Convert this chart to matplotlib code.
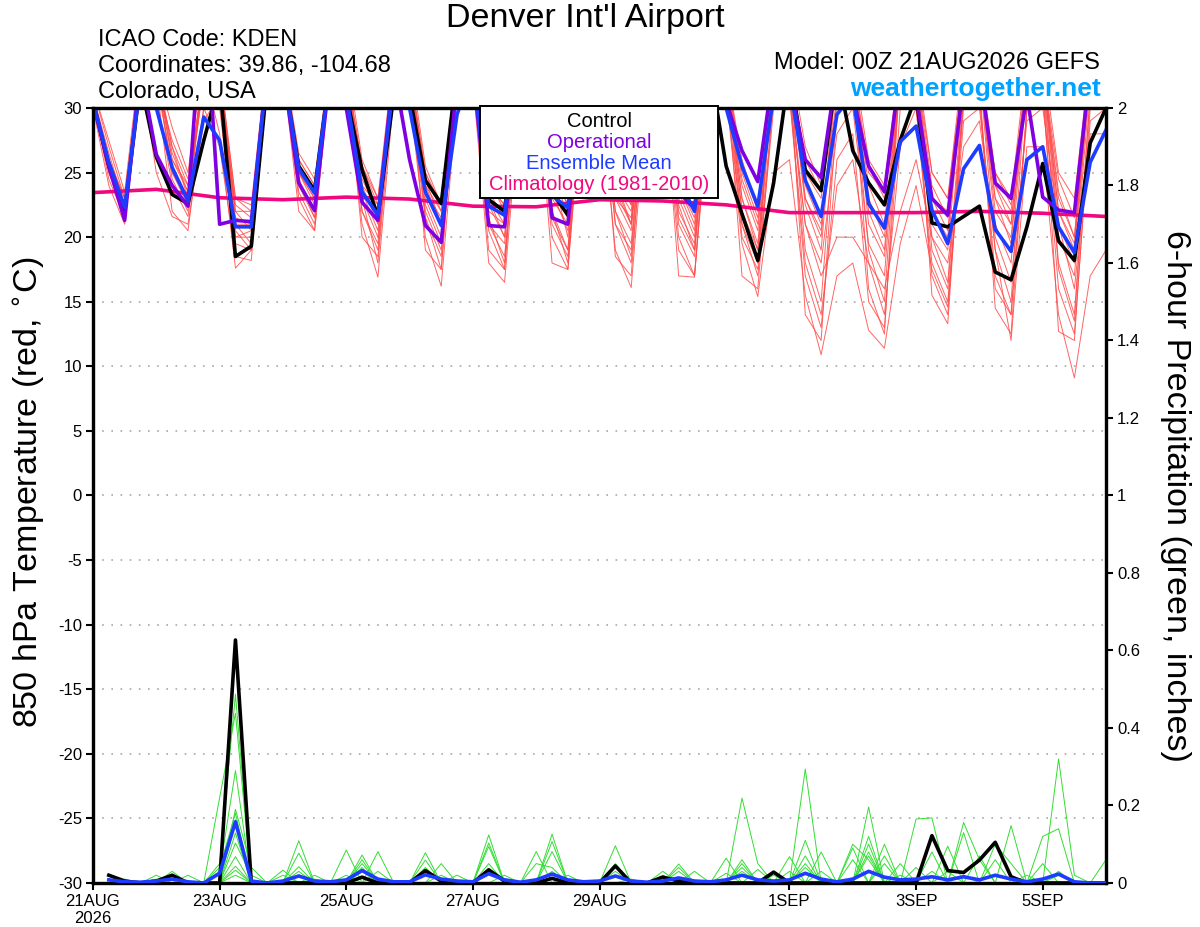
import numpy as np
import pandas as pd
import matplotlib
matplotlib.use("Agg")
import matplotlib.pyplot as plt
from matplotlib.patches import Rectangle

plt.rcParams["font.family"] = ["Liberation Sans", "DejaVu Sans"]

# 6-hourly forecast steps, 00Z 21 Aug 2026 -> 00Z 6 Sep 2026
times = pd.date_range("2026-08-21 00:00", periods=65, freq="6h")
precip_times = times[1:]
clim_days = pd.date_range("2026-08-21", periods=17, freq="D")

tick_dates = pd.to_datetime(["2026-08-21", "2026-08-23", "2026-08-25", "2026-08-27",
                             "2026-08-29", "2026-09-01", "2026-09-03", "2026-09-05"])
tick_labels = ["21AUG\n2026", "23AUG", "25AUG", "27AUG", "29AUG", "1SEP", "3SEP", "5SEP"]

# 850 hPa temperature (C); values above 30 run off the top of the chart
t_control = [30.5, 25.5, 22.0, 32,
             26.2, 23.3, 22.6, 27.5,
             32, 18.5, 19.3, 32,
             33, 25.5, 23.6, 33,
             31, 25.2, 21.6, 31,
             31, 24.4, 22.6, 33,
             33, 22.9, 22.0, 33,
             33, 23.5, 21.7, 33,
             33, 26, 24.5, 33,
             33, 26, 23.8, 33,
             25.5, 21.8, 18.2, 24.2,
             33, 25.2, 23.6, 33,
             26.7, 24.2, 22.5, 27.5,
             31, 21.1, 20.8, 21.6,
             22.4, 17.3, 16.7, 20.8,
             25.7, 19.7, 18.2, 27.3,
             30]
t_oper = [30.5, 25.5, 21.3, 33,
          26.4, 24.0, 22.4, 40,
          21.0, 21.3, 21.2, 33,
          33, 24.2, 22.05, 33,
          30, 22.7, 21.3, 33,
          26, 20.9, 19.6, 32,
          33, 20.9, 20.8, 33,
          33, 21.5, 21.0, 33,
          33, 25.5, 23.8, 33,
          33, 23.5, 22.2, 33,
          30.5, 26.7, 24.3, 33,
          32, 26, 24.6, 33,
          31, 25.5, 23.5, 33,
          31, 23, 21.7, 32,
          33, 24.2, 23.0, 31,
          23.1, 22.1, 21.9, 33,
          34]
t_mean = [30.5, 25.8, 22.3, 32,
          30, 25.4, 22.8, 29.3,
          27.5, 20.8, 20.8, 33,
          33, 25.3, 23.4, 33,
          31, 23.5, 21.7, 32,
          30, 23.5, 20.9, 29.5,
          33, 22.4, 21.7, 33,
          33, 23.2, 22.3, 33,
          33, 25.5, 24, 33,
          33, 24.5, 22.0, 33,
          30, 25.5, 22.4, 31,
          32, 24.4, 21.6, 29.5,
          31, 22.6, 20.7, 27.4,
          28.6, 22.1, 19.5, 25.3,
          27.1, 20.6, 18.9, 26,
          27, 20.8, 18.8, 25.8,
          28.3]
t_clim = [23.45, 23.7, 23.05, 22.9, 23.1, 22.95, 22.4, 22.35, 22.9,
          22.8, 22.5, 21.9, 21.9, 21.9, 22.0, 21.85, 21.6]

t_members = [
    [31, 26.5, 22.5, 33, 32, 27.5, 24.5, 32, 33, 21.5, 21, 33, 33, 26, 24, 33,
     33, 25.5, 22.5, 33, 33, 25, 22, 32, 33, 24, 22.5, 33, 33, 24.5, 22, 33,
     33, 25, 22.5, 33, 33, 25, 22, 33, 32, 24, 20.5, 33, 33, 26, 23.5, 33,
     33, 25.5, 23, 32, 31, 23, 22, 33, 33, 25, 22.5, 33, 33, 24.5, 21.5, 33, 33],
    [30.5, 25, 21.5, 33, 31, 24, 21.6, 30, 27, 18.5, 18.2, 33, 33, 24.5, 21.5, 33,
     32, 23, 18, 32, 31, 21.5, 17.5, 33, 33, 21, 18.5, 32, 33, 22, 19, 33,
     33, 21, 18, 31, 33, 22.5, 19, 32, 31, 19.5, 15.4, 25, 26, 15.5, 10.9, 17,
     18, 12.8, 11.4, 19.5, 24, 17.5, 14.6, 29, 30, 19, 12, 27, 27, 14, 9.1, 17, 19],
    [31.5, 27.5, 23.5, 34, 33, 28.5, 25, 34, 33, 23, 22.5, 34, 34, 26.5, 24.5, 34,
     34, 26, 23, 34, 34, 25.5, 22.5, 34, 34, 24, 22.5, 34, 34, 25, 22.5, 34,
     34, 25, 22.5, 34, 34, 25, 22, 34, 33, 26, 22, 34, 34, 27, 24, 34,
     34, 26, 24, 34, 34, 25, 23, 34, 34, 25, 23, 34, 34, 25, 23, 34, 34],
    [30.5, 25.5, 22, 33, 30, 25, 23, 33, 28, 17.6, 19, 33, 33, 23.5, 21, 33,
     32, 21, 16.9, 31, 31, 20, 16.2, 31, 32, 18, 16.5, 31, 32, 20, 17.5, 32,
     32, 19, 16.1, 31, 33, 20, 17, 32, 31, 21, 17, 30, 31, 18, 14, 24,
     26, 18, 14, 27, 30, 18, 15, 30, 31, 17, 14, 30, 32, 18, 14, 31, 31],
    [31, 26, 22.5, 33, 33, 26.5, 23.5, 33, 33, 22, 20.5, 33, 33, 25, 22.5, 33,
     33, 24, 21, 33, 33, 23, 20, 33, 33, 23, 20, 33, 33, 23, 21, 33,
     33, 23, 20.5, 33, 33, 24, 21, 33, 33, 23, 19, 33, 33, 24, 21, 31,
     33, 23, 20, 33, 33, 22, 20, 33, 33, 23, 19.5, 33, 33, 23, 20, 33, 33],
    [30.5, 24.5, 21.5, 33, 32, 22, 20.5, 30, 30, 19.5, 19, 33, 33, 23, 20.5, 33,
     33, 22, 19.5, 33, 32, 22, 19, 33, 33, 21.5, 18, 33, 33, 21, 18.5, 33,
     33, 21, 19, 33, 32, 19, 17, 31, 33, 22, 18, 33, 31, 21, 17, 20,
     20, 18, 16, 22, 26, 20, 18, 27, 29, 20, 16.5, 29, 30, 21, 16, 28, 28],
    [30.5, 25.5, 22, 33, 32, 25.5, 23, 32, 31, 20, 20, 33, 33, 24, 22, 33,
     33, 23.5, 20.5, 33, 33, 24, 21, 33, 33, 22.5, 20, 33, 33, 23.5, 20.5, 33,
     33, 24, 21, 33, 33, 23, 20, 33, 33, 24.5, 21, 33, 33, 23, 20, 33,
     33, 21, 18.5, 32, 33, 21, 19, 33, 33, 21, 18, 33, 33, 22, 19, 33, 33],
    [31.5, 27, 23, 33, 33, 27, 24, 33, 32, 22.5, 21.5, 33, 33, 25.5, 23.5, 33,
     33, 24.5, 22, 33, 33, 23.5, 21.5, 33, 33, 22, 21, 33, 33, 24, 21.5, 33,
     33, 23.5, 21, 33, 33, 22, 19.5, 33, 33, 25, 21.5, 33, 32, 21, 18, 28,
     30, 19.5, 17, 33, 33, 20, 16.5, 32, 33, 24, 21, 33, 33, 20, 17, 32, 32],
    [30, 24, 21, 33, 25, 21.6, 21, 29, 31, 20, 20.5, 33, 33, 22, 20.5, 33,
     33, 20, 18.5, 33, 33, 19, 17.5, 33, 33, 19, 17.5, 33, 33, 18, 17.5, 33,
     33, 18.5, 17, 33, 33, 17, 16.9, 33, 33, 17, 16, 31, 33, 14, 12, 30,
     33, 16, 12.5, 33, 33, 15.5, 13.3, 31, 32, 14.5, 12.5, 30, 32, 12.7, 12, 30, 30],
    [31, 26, 23, 33, 33, 26, 23.5, 32, 32, 21, 21, 33, 33, 25, 23, 33,
     33, 25, 22, 33, 33, 24.5, 21, 33, 33, 23.5, 21.5, 33, 33, 25, 20, 33,
     33, 24.5, 21, 33, 33, 24, 21.5, 33, 33, 23, 19.5, 33, 33, 22.5, 19, 33,
     33, 24, 21, 33, 33, 23, 20.5, 33, 33, 23, 21, 33, 33, 21, 18, 33, 32],
    [30.5, 25, 22, 33, 33, 24.5, 22, 33, 33, 21, 19.5, 33, 33, 24, 22, 33,
     33, 22, 19, 33, 33, 21.5, 18.5, 33, 33, 20.5, 17.5, 33, 33, 22, 18, 33,
     33, 22, 18.5, 33, 33, 21, 18.5, 33, 33, 20, 17.5, 31, 33, 19, 15, 31,
     33, 19, 15, 33, 33, 19, 16, 31, 33, 19, 15, 33, 33, 17.5, 13.5, 31, 31],
    [31, 26, 22.5, 33, 33, 27, 23, 33, 32, 22, 22, 33, 33, 26, 24, 33,
     33, 25.5, 23, 33, 33, 25, 22.5, 33, 33, 24.5, 22, 33, 33, 25, 22.5, 33,
     33, 24, 22, 33, 33, 24, 22, 33, 33, 25.5, 22, 33, 33, 25, 23, 33,
     33, 25, 23.5, 33, 33, 25, 23, 33, 33, 24, 22, 33, 33, 23.5, 20, 33, 33],
    [30.5, 25, 22.5, 33, 33, 25, 22.5, 33, 32, 20.5, 19, 33, 33, 24, 21.5, 33,
     33, 23, 20, 33, 33, 22.5, 19.5, 33, 33, 21, 19.5, 33, 33, 21.5, 19, 33,
     33, 22, 19.5, 33, 33, 21.5, 19, 33, 33, 21, 18, 33, 31, 17, 13, 26,
     28, 15, 13, 30, 30, 17, 14, 31, 31, 16, 14, 30, 31, 16, 12.5, 29, 30],
    [31, 26, 23, 33, 33, 26, 24, 33, 33, 23, 22, 33, 33, 25, 23, 33,
     33, 24, 22.5, 33, 33, 24, 22, 33, 33, 23, 21, 33, 33, 24, 21.5, 33,
     33, 23, 21.5, 33, 33, 23.5, 20.5, 33, 33, 22, 19, 33, 33, 23, 20.5, 33,
     33, 22, 19, 33, 33, 24, 21.5, 33, 33, 22, 20, 33, 33, 22, 19.5, 33, 33],
]

# 6-hour precipitation (inches), steps 06Z 21 Aug -> 00Z 6 Sep
p_control = [.02, .005, 0, .005, .02, 0, 0, 0, .627, 0, 0, 0, 0, 0, 0, 0,
             .015, 0, 0, 0, .032, .005, 0, 0, .034, .005, 0, 0, .012, 0, 0, 0,
             .044, 0, 0, .015, .005, 0, 0, 0, 0, 0, .028, 0, 0, 0, 0, 0,
             0, 0, 0, 0, .122, .032, .027, .059, .105, .016, 0, 0, 0, 0, 0, 0]
p_mean = [.008, .003, .002, .005, .01, .003, 0, .025, .158, .005, 0, .005, .018, .005, .003, .008,
          .032, .01, .003, .003, .021, .01, .005, .003, .024, .008, .002, .008, .023, .008, .003, .005,
          .018, .005, .002, .005, .013, .005, .003, .008, .02, .008, .005, .008, .025, .01, .003, .01,
          .03, .015, .008, .01, .016, .008, .016, .008, .02, .01, .003, .01, .023, .003, 0, 0]
p_members = [
    [.01, 0, 0, 0, 0, 0, 0, .05, .487, 0, 0, 0, .03, 0, 0, 0,
     .072, 0, 0, 0, 0, .02, 0, 0, 0, 0, 0, .05, .04, 0, 0, 0,
     0, 0, 0, 0, .049, 0, 0, 0, 0, 0, 0, .03, 0, 0, 0, .06,
     0, 0, .05, 0, 0, 0, .02, 0, 0, 0, 0, 0, .32, .02, 0, 0],
    [.02, 0, 0, 0, 0, 0, 0, .22, .438, 0, 0, 0, .109, 0, 0, 0,
     .03, 0, 0, 0, 0, 0, 0, 0, .103, 0, 0, 0, 0, .02, 0, 0,
     0, 0, 0, 0, 0, 0, 0, .064, 0, 0, 0, 0, .07, 0, 0, 0,
     .08, 0, 0, .165, .168, 0, 0, 0, 0, 0, 0, 0, 0, 0, 0, 0],
    [0, 0, 0, 0, .02, 0, 0, .03, .29, 0, 0, .033, 0, 0, 0, .02,
     0, 0, 0, 0, .059, 0, 0, 0, 0, .02, 0, 0, 0, 0, 0, 0,
     0, .01, 0, 0, 0, 0, 0, 0, .219, .05, 0, 0, 0, .03, 0, 0,
     .07, 0, 0, 0, 0, .03, 0, 0, 0, 0, 0, .12, .14, 0, 0, 0],
    [0, 0, 0, .02, 0, 0, 0, 0, .19, .04, 0, 0, 0, .02, 0, 0,
     0, .081, 0, 0, 0, 0, 0, 0, .03, 0, 0, 0, 0, 0, 0, 0,
     .096, 0, 0, 0, 0, 0, 0, 0, .04, 0, 0, 0, 0, 0, 0, .1,
     .06, 0, 0, 0, 0, .095, 0, 0, 0, 0, 0, 0, .02, 0, 0, 0],
    [0, 0, 0, 0, .03, 0, 0, .04, .18, 0, 0, 0, .077, 0, 0, 0,
     0, 0, 0, 0, .078, 0, 0, 0, 0, 0, 0, 0, .107, 0, 0, 0,
     0, 0, 0, 0, .03, 0, 0, 0, 0, 0, 0, 0, .294, 0, 0, 0,
     0, .07, 0, 0, 0, 0, 0, .07, 0, 0, 0, 0, 0, 0, 0, 0],
    [.01, 0, 0, 0, 0, 0, 0, 0, .163, 0, 0, .02, 0, 0, 0, 0,
     .06, 0, 0, 0, 0, .05, 0, 0, 0, 0, 0, 0, .081, 0, 0, 0,
     0, 0, 0, 0, 0, .03, 0, 0, 0, 0, 0, .068, 0, 0, 0, 0,
     .12, 0, 0, 0, .03, 0, 0, 0, .1, .05, 0, 0, 0, 0, 0, 0],
    [0, 0, 0, 0, 0, .02, 0, 0, .129, 0, 0, 0, 0, .01, 0, 0,
     0, .03, 0, 0, 0, 0, 0, 0, .124, 0, 0, 0, 0, 0, 0, 0,
     0, 0, 0, .02, 0, 0, 0, 0, .05, 0, 0, 0, 0, .08, 0, 0,
     0, 0, .02, 0, 0, 0, 0, 0, 0, .148, 0, 0, 0, 0, 0, 0],
    [0, 0, 0, 0, 0, 0, 0, 0, .103, .02, 0, 0, 0, 0, 0, .085,
     0, 0, 0, 0, 0, 0, 0, 0, .05, 0, 0, 0, 0, 0, 0, 0,
     .03, 0, 0, 0, 0, 0, 0, 0, .03, 0, 0, 0, .05, 0, 0, 0,
     0, .1, 0, 0, 0, 0, .13, 0, 0, 0, 0, 0, .03, 0, 0, 0],
    [0, .01, 0, 0, 0, 0, 0, 0, .068, 0, 0, 0, .042, 0, 0, 0,
     0, 0, 0, 0, .04, 0, 0, 0, 0, 0, 0, .081, 0, 0, 0, 0,
     0, 0, 0, .03, 0, 0, 0, 0, 0, .035, 0, 0, 0, 0, 0, .09,
     0, 0, 0, .04, 0, 0, 0, 0, .06, 0, 0, 0, 0, 0, 0, .06],
    [0, 0, 0, 0, .02, 0, 0, 0, .043, 0, 0, 0, 0, 0, 0, 0,
     .05, 0, 0, 0, 0, 0, .02, 0, 0, 0, 0, 0, .03, 0, 0, 0,
     0, 0, 0, 0, .04, 0, 0, 0, 0, 0, .02, 0, 0, 0, 0, 0,
     .196, 0, 0, 0, 0, 0, 0, 0, 0, 0, .02, 0, 0, 0, 0, 0],
    [0, 0, 0, 0, 0, 0, 0, 0, .033, 0, 0, 0, .02, 0, 0, 0,
     0, 0, 0, 0, .03, 0, 0, 0, 0, 0, 0, 0, .126, 0, 0, 0,
     0, 0, 0, 0, 0, 0, 0, 0, .06, 0, 0, 0, .04, 0, 0, 0,
     .1, 0, 0, 0, .08, 0, 0, 0, 0, 0, 0, .05, 0, 0, 0, 0],
    [0, 0, 0, .01, 0, 0, 0, 0, .02, 0, 0, 0, 0, 0, 0, 0,
     .04, 0, 0, 0, 0, 0, 0, 0, .094, 0, 0, 0, 0, 0, 0, 0,
     .05, 0, 0, 0, 0, 0, 0, .025, 0, 0, 0, 0, .11, 0, 0, 0,
     0, .05, 0, 0, 0, 0, .156, .06, 0, 0, 0, 0, 0, 0, 0, 0],
]

RED = "#ff4a4a"
GREEN = "#33dd33"
BLACK = "#000000"
PURPLE = "#7f00e0"
BLUE = "#1e3cff"
MAGENTA = "#f0087f"

fig = plt.figure(figsize=(12, 9.27), dpi=100)
ax = fig.add_axes([0.0775, 0.0475, 0.8442, 0.836])
ax2 = ax.twinx()

for m in t_members:
    ax.plot(times, m, color=RED, lw=0.7, alpha=0.85, zorder=2)
ax.plot(clim_days, t_clim, color=MAGENTA, lw=2.6, zorder=3)
ax.plot(times, t_control, color=BLACK, lw=2.6, zorder=4)
ax.plot(times, t_oper, color=PURPLE, lw=2.6, zorder=5)
ax.plot(times, t_mean, color=BLUE, lw=2.6, zorder=6)

for m in p_members:
    ax2.plot(precip_times, m, color=GREEN, lw=0.7, zorder=2)
ax2.plot(precip_times, p_control, color=BLACK, lw=2.6, zorder=4)
ax2.plot(precip_times, p_mean, color=BLUE, lw=2.6, zorder=5)

ax.set_xlim(times[0], times[-1])
ax.set_ylim(-30, 30)
ax2.set_ylim(0, 2)
ax.set_yticks(range(-30, 31, 5))
ax.set_yticklabels([str(v) for v in range(-30, 31, 5)])
p_ticks = np.arange(0, 2.01, 0.2)
ax2.set_yticks(p_ticks)
ax2.set_yticklabels(["%g" % round(v, 1) for v in p_ticks])
ax.set_xticks(tick_dates)
ax.set_xticklabels(tick_labels)

for v in range(-25, 30, 5):
    ax.axhline(v, color="#a8a8a8", lw=1.2, ls=(0, (1, 4.5)), zorder=1)

for a in (ax, ax2):
    for s in a.spines.values():
        s.set_linewidth(2.3)
    a.tick_params(direction="out", length=5, width=1.5, labelsize=12, pad=3)

# legend box
ax2.add_patch(Rectangle((0.382, 0.884), 0.235, 0.118, transform=ax2.transAxes,
                        facecolor="white", edgecolor="black", lw=1.4, zorder=10, clip_on=False))
leg = [("Control", BLACK), ("Operational", PURPLE), ("Ensemble Mean", BLUE),
       ("Climatology (1981-2010)", MAGENTA)]
for k, (txt, col) in enumerate(leg):
    ax2.text(0.4995, 0.983 - k * 0.0272, txt, color=col, fontsize=14.5,
             ha="center", va="center", transform=ax2.transAxes, zorder=11)

fig.text(585 / 1200, 1 - 18 / 927, "Denver Int'l Airport", fontsize=24.5, ha="center", va="center")
fig.text(98 / 1200, 1 - 40 / 927, "ICAO Code: KDEN", fontsize=17, ha="left", va="center")
fig.text(98 / 1200, 1 - 66 / 927, "Coordinates: 39.86, -104.68", fontsize=17, ha="left", va="center")
fig.text(98 / 1200, 1 - 92 / 927, "Colorado, USA", fontsize=17, ha="left", va="center")
fig.text(1100 / 1200, 1 - 63 / 927, "Model: 00Z 21AUG2026 GEFS", fontsize=17, ha="right", va="center")
fig.text(1101 / 1200, 1 - 89 / 927, "weathertogether.net", fontsize=19, fontweight="bold",
         color="#00a2ff", ha="right", va="center")
fig.text(30 / 1200, 1 - 492 / 927, r"850 hPa Temperature (red, $^{\circ}$C)", fontsize=24.5,
         rotation=90, ha="center", va="center")
fig.text(1175 / 1200, 1 - 496 / 927, "6-hour Precipitation (green, inches)", fontsize=24.5,
         rotation=270, ha="center", va="center")

fig.savefig("out.png", dpi=100)
